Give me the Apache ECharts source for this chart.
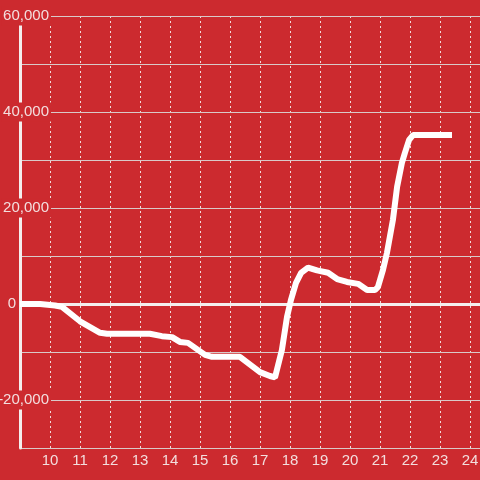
<!DOCTYPE html>
<html>
<head>
<meta charset="utf-8">
<script src="https://cdn.jsdelivr.net/npm/echarts@6/dist/echarts.min.js"></script>
<style>
html,body{margin:0;padding:0;background:#cc2a2f;}
#c{width:480px;height:480px;}
</style>
</head>
<body>
<div id="c"></div>
<script>
// Hours (x) and values (y)
const hours = [9.0, 9.67, 10.17, 10.4, 11.0, 11.67, 11.9, 13.33, 13.73, 14.07, 14.33, 14.6, 15.17, 15.4, 16.33, 16.77, 17.0, 17.33, 17.5, 17.73, 17.9, 18.03, 18.2, 18.37, 18.6, 18.9, 19.27, 19.57, 19.9, 20.27, 20.57, 20.83, 20.93, 21.1, 21.23, 21.43, 21.57, 21.73, 21.83, 21.97, 22.1, 23.4];
const values = [0, 0, -300, -600, -3600, -6000, -6200, -6200, -6700, -6900, -7900, -8100, -10600, -11000, -11000, -13100, -14200, -15000, -15300, -9600, -2700, 800, 4400, 6500, 7600, 7000, 6500, 5200, 4600, 4200, 2900, 2900, 3500, 7100, 10600, 17500, 24400, 29400, 31500, 34200, 35200, 35200];
const yTickLabels = [60000, 40000, 20000, 0, -20000];
const xTickLabels = [10, 11, 12, 13, 14, 15, 16, 17, 18, 19, 20, 21, 22, 23, 24];

const RED = '#cc2a2f';
const TXT = '#f3dede';
const FONT = 'Liberation Sans, Arial, sans-serif';
const chart = echarts.init(document.getElementById('c'), null, {renderer: 'canvas'});
chart.setOption({
  backgroundColor: RED,
  animation: false,
  grid: {left: 20, right: 0, top: 16, bottom: 32, containLabel: false, outerBoundsMode: 'none'},
  xAxis: {
    type: 'value', min: 9, max: 24.3333, interval: 1,
    axisLine: {show: true, lineStyle: {color: '#d8c8c8', width: 1}},
    axisTick: {show: false},
    axisLabel: {
      color: TXT, fontSize: 15, fontFamily: FONT, margin: 5,
      showMinLabel: false, showMaxLabel: false,
      formatter: v => xTickLabels.indexOf(Math.round(v)) >= 0 && Math.abs(v - Math.round(v)) < 1e-6 ? String(Math.round(v)) : ''
    },
    splitLine: {show: true, lineStyle: {color: '#f0dcdc', width: 1, type: [2, 3]}}
  },
  yAxis: {
    type: 'value', min: -30000, max: 60000, interval: 10000,
    axisLine: {show: true, onZero: false, lineStyle: {color: '#f4eeee', width: 3}},
    axisTick: {show: false},
    axisLabel: {
      inside: false, margin: -31, align: 'right', verticalAlign: 'middle',
      color: TXT, fontSize: 15, fontFamily: FONT,
      formatter: v => {
        if (yTickLabels.indexOf(v) < 0) return '';
        if (v === 0) return '{z|0}';
        return '{n|' + v.toLocaleString('en-US') + '}';
      },
      rich: {
        n: {backgroundColor: RED, padding: [2, 2, 2, 2], color: TXT, fontSize: 15, fontFamily: FONT},
        z: {padding: [2, 35, 2, 2], color: TXT, fontSize: 15, fontFamily: FONT}
      }
    },
    splitLine: {show: true, lineStyle: {color: '#d9c9c9', width: 1}},
    z: 5
  },
  series: [{
    type: 'line',
    data: hours.map((h, i) => [h, values[i]]),
    symbol: 'none',
    lineStyle: {color: '#ffffff', width: 6},
    z: 10,
    markLine: {
      silent: true, symbol: 'none', label: {show: false},
      lineStyle: {color: '#f4eeee', width: 3, type: 'solid'},
      data: [{yAxis: 0}],
      z: 8
    }
  }]
});
</script>
</body>
</html>
